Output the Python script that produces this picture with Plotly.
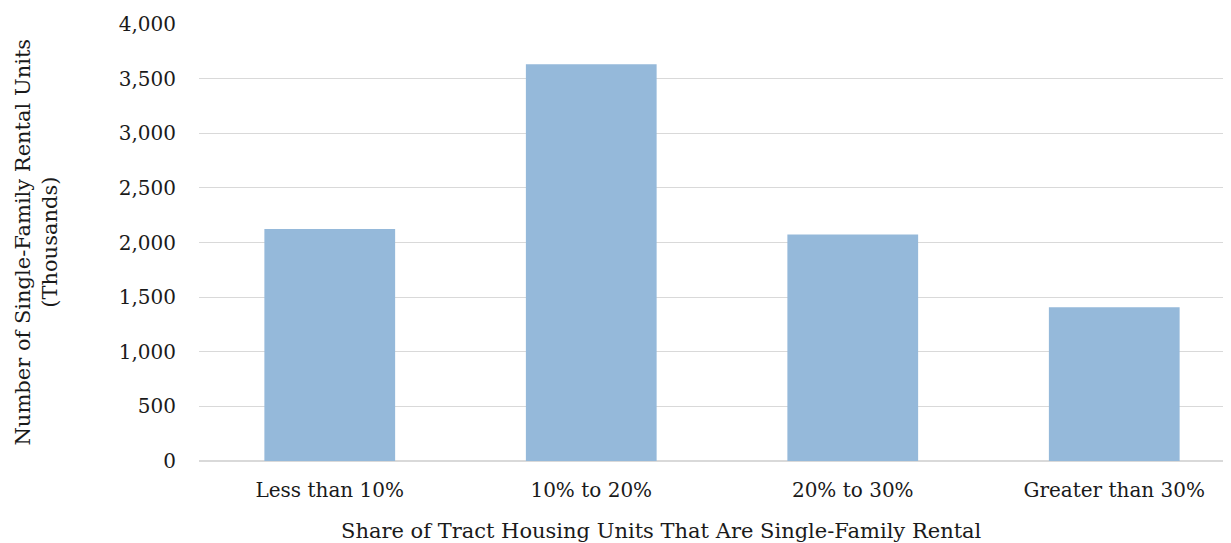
import plotly.graph_objects as go

categories = ["Less than 10%", "10% to 20%", "20% to 30%", "Greater than 30%"]
units_thousands = [2124, 3631, 2073, 1408]
y_ticks = [0, 500, 1000, 1500, 2000, 2500, 3000, 3500, 4000]
y_tick_labels = ["0", "500", "1,000", "1,500", "2,000", "2,500", "3,000", "3,500", "4,000"]

FONT = "DejaVu Serif"
# page body has an 8px default margin, so the figure is sized to fit the window
W, H = 1223, 535
ML, MR, MT, MB = 191, 0, 16, 82
pw = W - ML - MR

fig = go.Figure()
fig.add_trace(go.Bar(
    x=categories, y=units_thousands, width=0.5,
    marker=dict(color="#95B9DA", line=dict(width=0)),
    hoverinfo="x+y",
))

fig.update_layout(
    width=W, height=H,
    margin=dict(l=ML, r=MR, t=MT, b=MB, pad=0),
    paper_bgcolor="white", plot_bgcolor="white",
    font=dict(family=FONT, size=20, color="#1a1a1a"),
    showlegend=False,
    xaxis=dict(
        type="category", range=[-0.5, -0.5 + pw / 261.5],
        showgrid=False, zeroline=False, showline=False, ticks="",
        tickfont=dict(family=FONT, size=20, color="#1a1a1a"),
        ticklabelstandoff=15,
    ),
    yaxis=dict(
        range=[0, 4000], tickvals=y_ticks, ticktext=y_tick_labels,
        showgrid=True, gridcolor="#D9D9D9", gridwidth=1,
        zeroline=True, zerolinecolor="#D9D9D9", zerolinewidth=2,
        showline=False, ticks="",
        tickfont=dict(family=FONT, size=20, color="#1a1a1a"),
        ticklabelstandoff=22,
    ),
    annotations=[
        dict(text="Number of Single-Family Rental Units<br>(Thousands)",
             xref="paper", yref="paper", x=(28 - ML) / pw, y=0.5,
             xanchor="center", yanchor="middle", textangle=-90, showarrow=False,
             font=dict(family=FONT, size=21, color="#1a1a1a")),
        dict(text="Share of Tract Housing Units That Are Single-Family Rental",
             xref="paper", yref="paper", x=(653 - ML) / pw, y=0,
             yshift=-(531 - 461), xanchor="center", yanchor="middle", showarrow=False,
             font=dict(family=FONT, size=21, color="#1a1a1a")),
    ],
)

fig.write_html("out.html")
